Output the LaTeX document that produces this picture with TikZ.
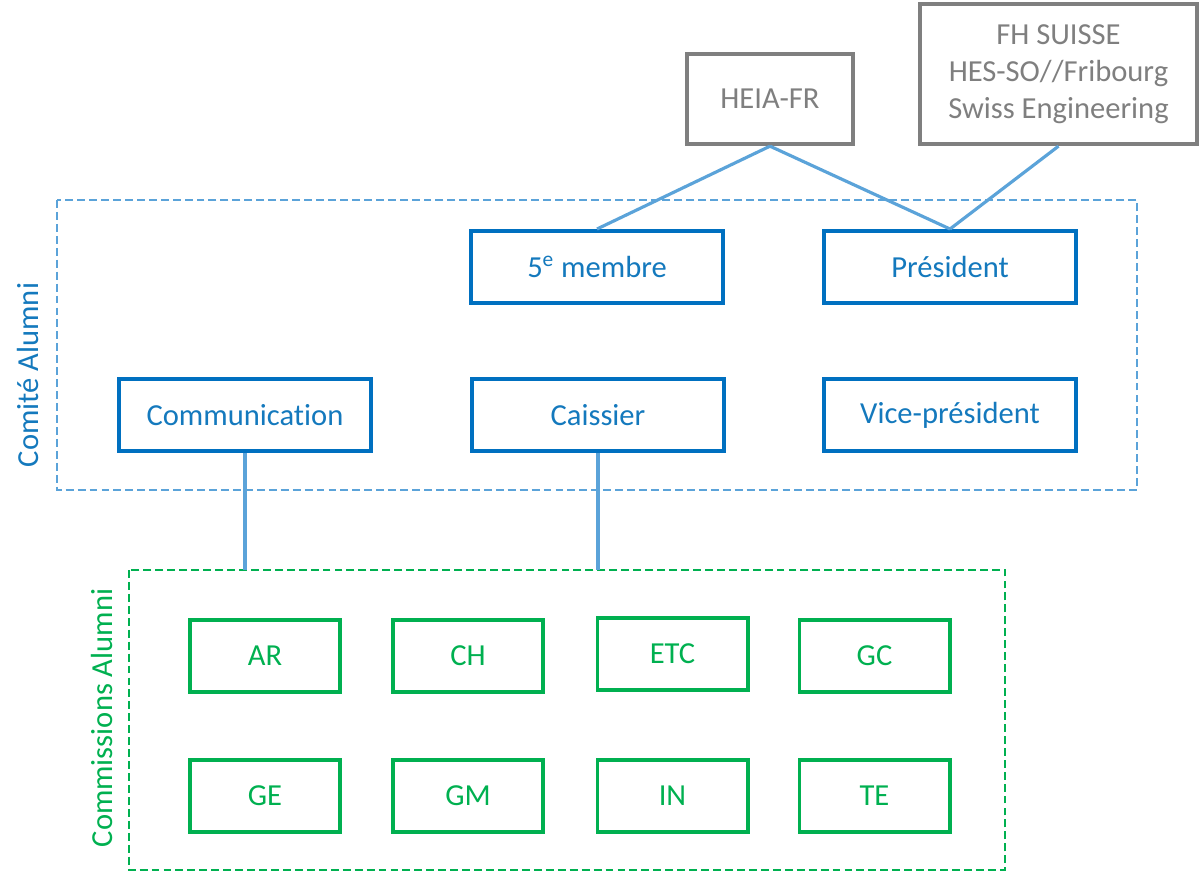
\documentclass[tikz,border=0pt]{standalone}
\usepackage{fontspec}
\setmainfont{Carlito}[Ligatures={NoCommon}]
\usetikzlibrary{positioning,calc}
\definecolor{bleu}{HTML}{0070C0}
\definecolor{textebleu}{HTML}{1479BD}
\definecolor{bleuclair}{HTML}{5BA3D9}
\definecolor{vert}{HTML}{00B050}
\definecolor{gris}{HTML}{7F7F7F}
\tikzstyle{poste} = [rectangle, minimum width=5.05cm, minimum height=1.45cm, text centered, draw=bleu, line width=2pt, text=textebleu]
\tikzstyle{filiere} = [rectangle, minimum width=3.01cm, minimum height=1.45cm, text centered, draw=vert, line width=2pt, text=vert]
\tikzstyle{externe} = [rectangle, text centered, draw=gris, line width=2.2pt, text=gris, align=center]
\tikzstyle{cadre} = [line width=1.1pt, dash pattern=on 4.5pt off 2.3pt]
\tikzstyle{lien} = [line width=1.8pt, draw=bleuclair]

\begin{document}
\begin{tikzpicture}[x=0.02cm,y=-0.02cm,font=\fontsize{17.4}{21}\selectfont]
\useasboundingbox (0,0) rectangle (1200,872);
% cadres en pointille
\draw[cadre, bleuclair] (57,200) rectangle (1137,490);
\draw[cadre, vert] (129,570) rectangle (1005,870);
\node[rotate=90, text=textebleu] (tcomite) at (28,375) {Comité Alumni};
\node[rotate=90, text=vert] (tcommissions) at (102,718) {Commissions Alumni};
\coordinate (haut1) at (245,570);
\coordinate (haut2) at (598,570);
% partenaires
\node (heia) at (770,99) [externe, minimum width=3.33cm, minimum height=1.81cm] {HEIA-FR};
\node (fh) at (1058.5,74) [externe, minimum width=5.55cm, minimum height=2.81cm] {FH SUISSE\\HES-SO//Fribourg\\Swiss Engineering};
% comite
\node (membre) at (597,267) [poste] {5\textsuperscript{e} membre};
\node (president) at (950,267) [poste] {Président};
\node (communication) at (245,415) [poste] {Communication};
\node (caissier) at (598,415) [poste] {Caissier};
\node (vice) at (950,415) [poste] {Vice-président};
% commissions
\node (ar) at (265,656) [filiere] {AR};
\node (ch) at (468,656) [filiere] {CH};
\node (etc) at (672.5,654) [filiere] {ETC};
\node (gc) at (874.5,656) [filiere] {GC};
\node (ge) at (265,796) [filiere] {GE};
\node (gm) at (468,796) [filiere] {GM};
\node (in) at (672.5,796) [filiere] {IN};
\node (te) at (874.5,796) [filiere] {TE};
% liens
\draw[lien] (heia.south) -- (membre.north);
\draw[lien] (heia.south) -- (president.north);
\draw[lien] (fh.south) -- (president.north);
\draw[lien] (communication.south) -- (haut1);
\draw[lien] (caissier.south) -- (haut2);
\end{tikzpicture}
\end{document}
